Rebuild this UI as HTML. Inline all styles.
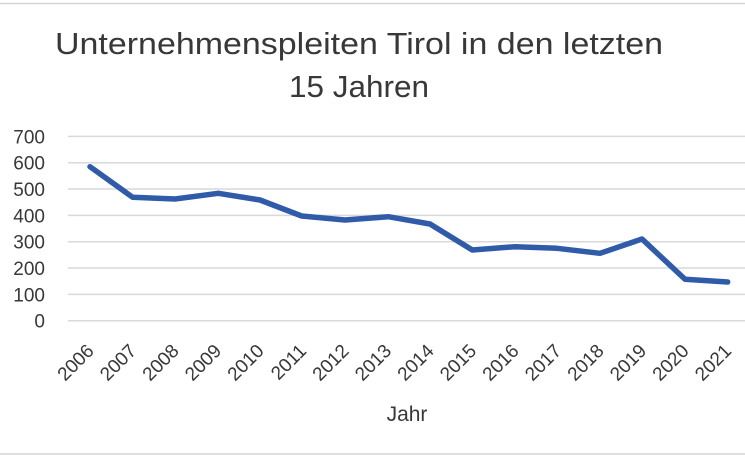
<!DOCTYPE html>
<html><head><meta charset="utf-8"><style>
html,body{margin:0;padding:0;background:#fff;}
svg{display:block;}
text{font-family:"Liberation Sans",sans-serif;fill:#383838;}
</style></head><body>
<svg width="745" height="458" viewBox="0 0 745 458" xmlns="http://www.w3.org/2000/svg">
<rect width="745" height="458" fill="#fff"/>
<line x1="0" y1="3.5" x2="745" y2="3.5" stroke="#d4d4d4" stroke-width="1.5"/>
<line x1="0" y1="454" x2="745" y2="454" stroke="#d4d4d4" stroke-width="1.5"/>
<text x="359" y="54" text-anchor="middle" font-size="31" textLength="608" lengthAdjust="spacingAndGlyphs">Unternehmenspleiten Tirol in den letzten</text>
<text x="359" y="97" text-anchor="middle" font-size="31" textLength="140" lengthAdjust="spacingAndGlyphs">15 Jahren</text>
<g stroke="#d9d9d9" stroke-width="1.5">
<line x1="68" y1="136.4" x2="745" y2="136.4"/>
<line x1="68" y1="162.7" x2="745" y2="162.7"/>
<line x1="68" y1="189" x2="745" y2="189"/>
<line x1="68" y1="215.4" x2="745" y2="215.4"/>
<line x1="68" y1="241.7" x2="745" y2="241.7"/>
<line x1="68" y1="268" x2="745" y2="268"/>
<line x1="68" y1="294.4" x2="745" y2="294.4"/>
<line x1="68" y1="320.7" x2="745" y2="320.7"/>
</g>
<g font-size="19" text-anchor="end">
<text x="45" y="143.3">700</text>
<text x="45" y="169.6">600</text>
<text x="45" y="195.9">500</text>
<text x="45" y="222.3">400</text>
<text x="45" y="248.6">300</text>
<text x="45" y="274.9">200</text>
<text x="45" y="301.3">100</text>
<text x="45" y="327.6">0</text>
</g>
<polyline fill="none" stroke="#2F5BA8" stroke-width="5.5" stroke-linejoin="round" stroke-linecap="round"
points="90,166.7 132.7,197.3 175,199 218.3,193.3 260,200 301.7,216 345,220 388.3,216.7 430,224 472.3,250 515,246.7 557,248.3 600,253.3 642,239 685,279.3 727.7,282"/>
<g font-size="19" text-anchor="end">
<text transform="translate(95,352) rotate(-45)">2006</text>
<text transform="translate(137.5,352) rotate(-45)">2007</text>
<text transform="translate(180,352) rotate(-45)">2008</text>
<text transform="translate(222.5,352) rotate(-45)">2009</text>
<text transform="translate(265,352) rotate(-45)">2010</text>
<text transform="translate(307.5,352) rotate(-45)">2011</text>
<text transform="translate(350,352) rotate(-45)">2012</text>
<text transform="translate(392.5,352) rotate(-45)">2013</text>
<text transform="translate(435,352) rotate(-45)">2014</text>
<text transform="translate(477.5,352) rotate(-45)">2015</text>
<text transform="translate(520,352) rotate(-45)">2016</text>
<text transform="translate(562.5,352) rotate(-45)">2017</text>
<text transform="translate(605,352) rotate(-45)">2018</text>
<text transform="translate(647.5,352) rotate(-45)">2019</text>
<text transform="translate(690,352) rotate(-45)">2020</text>
<text transform="translate(732.5,352) rotate(-45)">2021</text>
</g>
<text x="407" y="421" text-anchor="middle" font-size="21">Jahr</text>
</svg>
</body></html>
